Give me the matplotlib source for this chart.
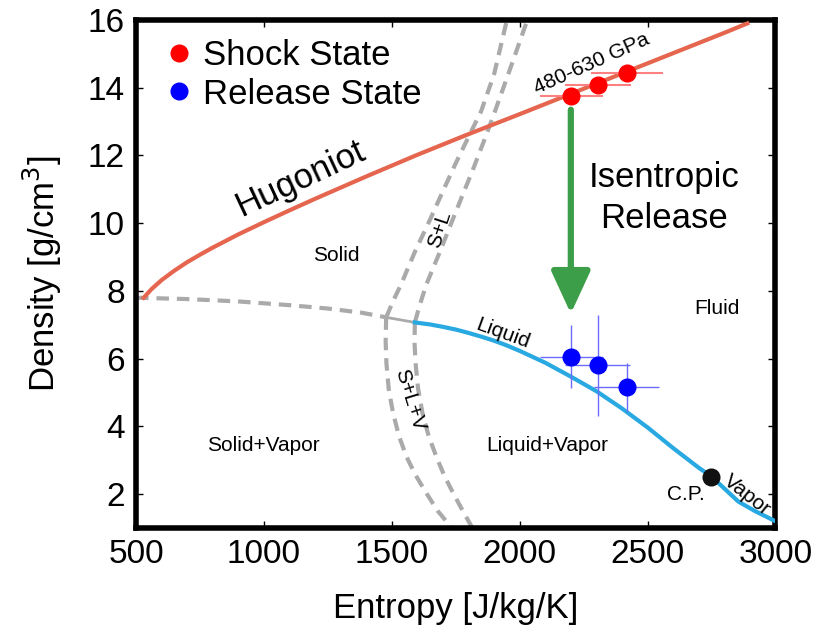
import matplotlib
matplotlib.use('Agg')
import matplotlib.pyplot as plt
from matplotlib.lines import Line2D

plt.rcParams['font.family'] = ['Liberation Sans', 'DejaVu Sans']

# Hugoniot curve
hug_s = [530, 560, 600, 650, 700, 750, 800, 900, 1000, 1100, 1200, 1300, 1400, 1500, 1600,
         1800, 2000, 2200, 2400, 2600, 2800, 2890]
hug_rho = [7.8, 8.05, 8.32, 8.6, 8.85, 9.07, 9.28, 9.67, 10.03, 10.38, 10.72, 11.05, 11.38, 11.7, 12.02,
           12.63, 13.22, 13.82, 14.42, 15.02, 15.62, 15.9]

# liquid/vapor boundary
liq_s = [1590, 1650, 1700, 1750, 1800, 1850, 1900, 1950, 2000, 2100, 2200, 2300, 2400, 2500, 2600,
         2700, 2750, 2855, 2920, 3000]
liq_rho = [7.07, 7.01, 6.94, 6.86, 6.76, 6.65, 6.53, 6.39, 6.23, 5.88, 5.47, 5.04, 4.53, 3.97, 3.36,
           2.78, 2.52, 1.78, 1.5, 1.2]

# phase boundaries (dashed)
sv_s = [500, 700, 900, 1100, 1250, 1380, 1478]
sv_rho = [7.8, 7.76, 7.69, 7.58, 7.48, 7.36, 7.22]
tri_s = [1478, 1590]
tri_rho = [7.22, 7.07]
sl_left_s = [1478, 1505, 1536, 1590, 1651, 1700, 1750, 1800, 1849, 1900, 1950]
sl_left_rho = [7.22, 7.7, 8.19, 9.15, 10.13, 10.95, 11.77, 12.55, 13.3, 14.4, 16.0]
sl_right_s = [1590, 1610, 1635, 1685, 1734, 1775, 1816, 1858, 1898, 1960, 2030]
sl_right_rho = [7.07, 7.6, 8.19, 9.1, 10.03, 10.8, 11.56, 12.38, 13.19, 14.5, 16.0]
slv_left_s = [1478, 1476, 1479, 1488, 1505, 1528, 1557, 1594, 1635, 1680, 1735]
slv_left_rho = [7.22, 6.5, 5.86, 5.1, 4.39, 3.72, 3.11, 2.55, 2.03, 1.5, 1.0]
slv_right_s = [1590, 1589, 1593, 1603, 1620, 1644, 1674, 1705, 1740, 1778, 1815]
slv_right_rho = [7.07, 6.45, 5.86, 5.1, 4.39, 3.72, 3.11, 2.55, 2.03, 1.5, 1.0]

# measured states
shock_s = [2202, 2306, 2419]
shock_rho = [13.77, 14.08, 14.43]
shock_serr = [124, 128, 140]
rel_s = [2202, 2306, 2419]
rel_rho = [6.06, 5.8, 5.16]
rel_serr = [124, 127, 127]
rel_rhoerr = [0.93, 1.48, 0.72]

cp_s = [2750]
cp_rho = [2.52]

fig = plt.figure(figsize=(8.21, 6.35), dpi=100)
ax = fig.add_axes([0.1657, 0.1685, 0.7788, 0.8])

gray = '#AAAAAA'
dash = (3, 1.9)
for xs, ys in [(sv_s, sv_rho), (sl_left_s, sl_left_rho), (sl_right_s, sl_right_rho),
               (slv_left_s, slv_left_rho), (slv_right_s, slv_right_rho)]:
    ax.plot(xs, ys, color=gray, lw=3, dashes=dash)
ax.plot(tri_s, tri_rho, color=gray, lw=2)

ax.plot(hug_s, hug_rho, color='#E5654F', lw=3, zorder=3)
ax.plot(liq_s, liq_rho, color='#29A9E1', lw=3, zorder=3)

ax.errorbar(shock_s, shock_rho, xerr=shock_serr, fmt='none', ecolor='#FF8080', elinewidth=1.5, zorder=4)
ax.plot(shock_s, shock_rho, 'o', color='red', ms=12, zorder=5)
ax.errorbar(rel_s, rel_rho, xerr=rel_serr, yerr=rel_rhoerr, fmt='none', ecolor='#6B6BFF', elinewidth=1, zorder=4)
ax.plot(rel_s, rel_rho, 'o', color='blue', ms=12, zorder=5)
ax.plot(cp_s, cp_rho, 'o', color='#111111', ms=12, zorder=5)

ax.annotate('', xy=(2200, 7.33), xytext=(2200, 13.35),
            arrowprops=dict(arrowstyle='-|>,head_length=1.3,head_width=0.6',
                            color='#3C9E48', lw=4.5, mutation_scale=20, shrinkA=0, shrinkB=0))

ax.text(1141, 11.33, 'Hugoniot', fontsize=25, rotation=25, ha='center', va='center')
ax.text(2280, 14.72, '480-630 GPa', fontsize=15, rotation=24, ha='center', va='center')
ax.text(2564, 10.75, 'Isentropic\nRelease', fontsize=25, ha='center', va='center', linespacing=1.3)
ax.text(1284, 9.06, 'Solid', fontsize=15, ha='center', va='center')
ax.text(2770, 7.48, 'Fluid', fontsize=15, ha='center', va='center')
ax.text(997, 3.45, 'Solid+Vapor', fontsize=15, ha='center', va='center')
ax.text(2109, 3.45, 'Liquid+Vapor', fontsize=15, ha='center', va='center')
ax.text(2651, 1.99, 'C.P.', fontsize=15, ha='center', va='center')
ax.text(2888, 1.98, 'Vapor', fontsize=15, rotation=-38, ha='center', va='center')
ax.text(1934, 6.74, 'Liquid', fontsize=15, rotation=-20, ha='center', va='center')
ax.text(1689, 9.83, 'S+L', fontsize=15, rotation=72, ha='center', va='center')
ax.text(1570, 4.78, 'S+L+V', fontsize=15, rotation=-73, ha='center', va='center')

handles = [Line2D([], [], marker='o', color='red', ls='none', ms=12),
           Line2D([], [], marker='o', color='blue', ls='none', ms=12)]
ax.legend(handles, ['Shock State', 'Release State'], loc='upper left', frameon=False,
          bbox_to_anchor=(0.023, 0.996), fontsize=25, handlelength=0.6, handletextpad=0.4,
          labelspacing=0.15, borderaxespad=0.3, borderpad=0.2)

ax.set_xlim(500, 3000)
ax.set_ylim(1, 16)
ax.set_xticks([500, 1000, 1500, 2000, 2500, 3000])
ax.set_yticks([2, 4, 6, 8, 10, 12, 14, 16])
ax.tick_params(direction='in', length=5, width=1, labelsize=24, top=True, right=True, pad=8)
for sp in ax.spines.values():
    sp.set_linewidth(4)
ax.set_xlabel('Entropy [J/kg/K]', fontsize=25, labelpad=16)
ax.set_ylabel('Density [g/cm$^3$]', fontsize=25, labelpad=17)

fig.savefig('out.png', dpi=100)
